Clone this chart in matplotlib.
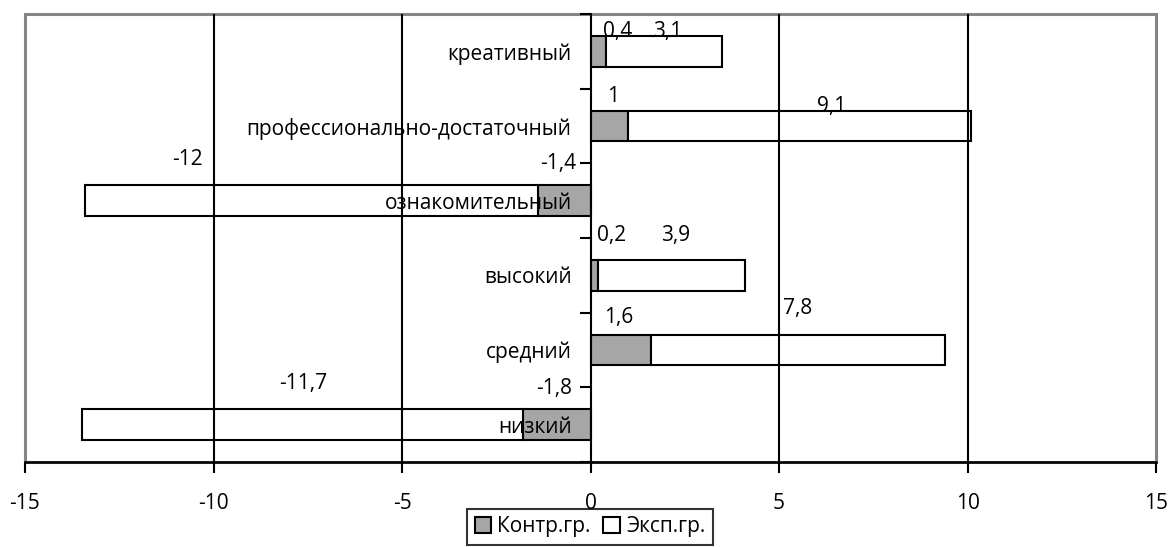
import matplotlib.pyplot as plt
from matplotlib.patches import Rectangle

plt.rcParams['font.family'] = ['Open Sans', 'DejaVu Sans']
plt.rcParams['font.size'] = 15
plt.rcParams['axes.unicode_minus'] = False

# levels, top to bottom
categories = ["креативный", "профессионально-достаточный", "ознакомительный",
              "высокий", "средний", "низкий"]
control = [0.4, 1, -1.4, 0.2, 1.6, -1.8]
experimental = [3.1, 9.1, -12, 3.9, 7.8, -11.7]

# where the value labels sit (x in data units, y in category units)
control_label_pos = [(0.72, -0.27), (0.61, 0.61), (-0.87, 1.5),
                     (0.56, 2.46), (0.74, 3.56), (-0.97, 4.51)]
exp_label_pos = [(2.04, -0.27), (6.39, 0.745), (-10.7, 1.45),
                 (2.25, 2.46), (5.49, 3.45), (-7.61, 4.455)]

GRAY = "#A6A6A6"
FRAME = "#858585"


def fmt(v):
    return f"{v:g}".replace(".", ",")


fig = plt.figure(figsize=(11.68, 5.47), dpi=100)
ax = fig.add_axes([25 / 1168, 1 - 462 / 547, 1131 / 1168, 448 / 547])

ypos = list(range(len(categories)))
bar_h = 0.415
ax.barh(ypos, control, height=bar_h, color=GRAY, edgecolor="black",
        linewidth=1.5, zorder=1, label="Контр.гр.")
ax.barh(ypos, experimental, left=control, height=bar_h, color="white",
        edgecolor="black", linewidth=1.5, zorder=1, label="Эксп.гр.")

for v, (x, y) in zip(control, control_label_pos):
    ax.text(x, y, fmt(v), ha="center", va="center", zorder=4)
for v, (x, y) in zip(experimental, exp_label_pos):
    ax.text(x, y, fmt(v), ha="center", va="center", zorder=4)

ax.set_xlim(-15, 15)
ax.set_ylim(len(categories) - 0.5, -0.5)

# vertical gridlines, drawn over the bars
for gx in (-10, -5, 5, 10):
    ax.axvline(gx, color="black", linewidth=1.5, zorder=2)

# y axis sits on zero, ticks between categories
ax.spines["left"].set_position(("data", 0))
ax.spines["left"].set_linewidth(1.5)
ax.spines["left"].set_zorder(3)
ax.spines["bottom"].set_linewidth(1.8)
ax.spines["top"].set_visible(False)
ax.spines["right"].set_visible(False)

ax.set_yticks([i - 0.5 for i in range(len(categories) + 1)])
ax.set_yticklabels([])
ax.set_yticks(ypos, categories, minor=True)
ax.tick_params(axis="y", which="major", length=8, width=1.5, direction="out")
ax.tick_params(axis="y", which="minor", length=0, pad=13.5)

ax.set_xticks(range(-15, 16, 5))
ax.tick_params(axis="x", length=8, width=1.5, direction="out", pad=14)

# plot-area frame
ax.add_patch(Rectangle((0, 0), 1, 1, transform=ax.transAxes, fill=False,
                       edgecolor=FRAME, linewidth=2.2, zorder=0.5,
                       clip_on=False))

leg = fig.legend(loc="upper center", bbox_to_anchor=(590 / 1168, 1 - 509 / 547),
                 ncol=2, frameon=True, fancybox=False, handlelength=0.8,
                 handleheight=0.8, handletextpad=0.3, columnspacing=0.6,
                 borderpad=0.35, borderaxespad=0)
leg.get_frame().set_edgecolor("black")
leg.get_frame().set_linewidth(1.5)

fig.savefig("out.png", dpi=100)
